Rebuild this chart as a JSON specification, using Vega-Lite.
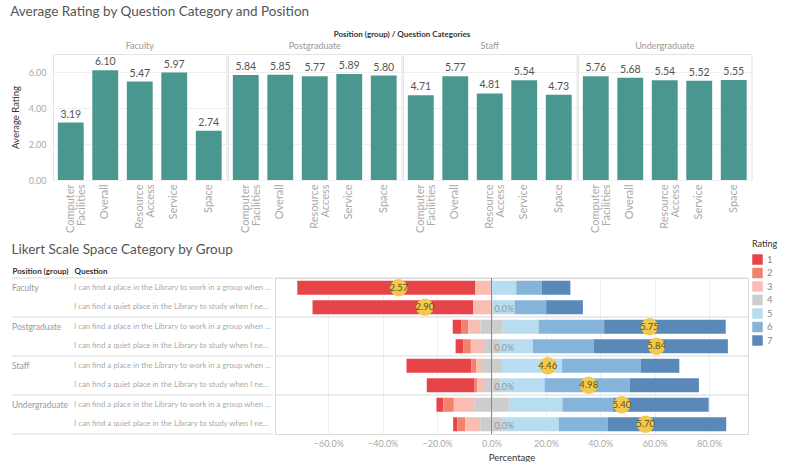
{
  "$schema": "https://vega.github.io/schema/vega-lite/v6.json",
  "background": "white",
  "padding": {"left": 10, "top": 4, "right": 0, "bottom": 0},
  "spacing": 9,
  "columns": 1,
  "align": "none",
  "config": {
    "font": "Lato",
    "view": {"stroke": null},
    "title": {"font": "Lato", "fontSize": 13.5, "fontWeight": "normal", "color": "#555555", "anchor": "start"}
  },
  "datasets": {
    "avg": [
      {"position": "Faculty", "category": "Computer Facilities", "rating": 3.19},
      {"position": "Faculty", "category": "Overall", "rating": 6.10},
      {"position": "Faculty", "category": "Resource Access", "rating": 5.47},
      {"position": "Faculty", "category": "Service", "rating": 5.97},
      {"position": "Faculty", "category": "Space", "rating": 2.74},
      {"position": "Postgraduate", "category": "Computer Facilities", "rating": 5.84},
      {"position": "Postgraduate", "category": "Overall", "rating": 5.85},
      {"position": "Postgraduate", "category": "Resource Access", "rating": 5.77},
      {"position": "Postgraduate", "category": "Service", "rating": 5.89},
      {"position": "Postgraduate", "category": "Space", "rating": 5.80},
      {"position": "Staff", "category": "Computer Facilities", "rating": 4.71},
      {"position": "Staff", "category": "Overall", "rating": 5.77},
      {"position": "Staff", "category": "Resource Access", "rating": 4.81},
      {"position": "Staff", "category": "Service", "rating": 5.54},
      {"position": "Staff", "category": "Space", "rating": 4.73},
      {"position": "Undergraduate", "category": "Computer Facilities", "rating": 5.76},
      {"position": "Undergraduate", "category": "Overall", "rating": 5.68},
      {"position": "Undergraduate", "category": "Resource Access", "rating": 5.54},
      {"position": "Undergraduate", "category": "Service", "rating": 5.52},
      {"position": "Undergraduate", "category": "Space", "rating": 5.55}
    ],
    "rows": [
      {"row": "F1", "group": "Faculty", "question": "I can find a place in the Library to work in a group when ..."},
      {"row": "F2", "group": "Faculty", "question": "I can find a quiet place in the Library to study when I ne..."},
      {"row": "P1", "group": "Postgraduate", "question": "I can find a place in the Library to work in a group when ..."},
      {"row": "P2", "group": "Postgraduate", "question": "I can find a quiet place in the Library to study when I ne..."},
      {"row": "S1", "group": "Staff", "question": "I can find a place in the Library to work in a group when ..."},
      {"row": "S2", "group": "Staff", "question": "I can find a quiet place in the Library to study when I ne..."},
      {"row": "U1", "group": "Undergraduate", "question": "I can find a place in the Library to work in a group when ..."},
      {"row": "U2", "group": "Undergraduate", "question": "I can find a quiet place in the Library to study when I ne..."}
    ],
    "likert": [
      {"row": "F1", "rating": "1", "pct": -0.655},
      {"row": "F1", "rating": "3", "pct": -0.059},
      {"row": "F1", "rating": "5", "pct": 0.091},
      {"row": "F1", "rating": "6", "pct": 0.094},
      {"row": "F1", "rating": "7", "pct": 0.105},
      {"row": "F2", "rating": "1", "pct": -0.590},
      {"row": "F2", "rating": "3", "pct": -0.068},
      {"row": "F2", "rating": "5", "pct": 0.085},
      {"row": "F2", "rating": "6", "pct": 0.116},
      {"row": "F2", "rating": "7", "pct": 0.135},
      {"row": "P1", "rating": "1", "pct": -0.0305},
      {"row": "P1", "rating": "2", "pct": -0.026},
      {"row": "P1", "rating": "3", "pct": -0.045},
      {"row": "P1", "rating": "4", "pct": -0.041},
      {"row": "P1", "rating": "4", "pct": 0.041},
      {"row": "P1", "rating": "5", "pct": 0.132},
      {"row": "P1", "rating": "6", "pct": 0.241},
      {"row": "P1", "rating": "7", "pct": 0.447},
      {"row": "P2", "rating": "1", "pct": -0.028},
      {"row": "P2", "rating": "2", "pct": -0.028},
      {"row": "P2", "rating": "3", "pct": -0.045},
      {"row": "P2", "rating": "4", "pct": -0.031},
      {"row": "P2", "rating": "4", "pct": 0.031},
      {"row": "P2", "rating": "5", "pct": 0.121},
      {"row": "P2", "rating": "6", "pct": 0.224},
      {"row": "P2", "rating": "7", "pct": 0.493},
      {"row": "S1", "rating": "1", "pct": -0.239},
      {"row": "S1", "rating": "2", "pct": -0.018},
      {"row": "S1", "rating": "3", "pct": -0.017},
      {"row": "S1", "rating": "4", "pct": -0.0385},
      {"row": "S1", "rating": "4", "pct": 0.0385},
      {"row": "S1", "rating": "5", "pct": 0.221},
      {"row": "S1", "rating": "6", "pct": 0.290},
      {"row": "S1", "rating": "7", "pct": 0.141},
      {"row": "S2", "rating": "1", "pct": -0.176},
      {"row": "S2", "rating": "2", "pct": -0.010},
      {"row": "S2", "rating": "3", "pct": -0.021},
      {"row": "S2", "rating": "4", "pct": -0.031},
      {"row": "S2", "rating": "4", "pct": 0.031},
      {"row": "S2", "rating": "5", "pct": 0.164},
      {"row": "S2", "rating": "6", "pct": 0.3125},
      {"row": "S2", "rating": "7", "pct": 0.255},
      {"row": "U1", "rating": "1", "pct": -0.025},
      {"row": "U1", "rating": "2", "pct": -0.039},
      {"row": "U1", "rating": "3", "pct": -0.075},
      {"row": "U1", "rating": "4", "pct": -0.0635},
      {"row": "U1", "rating": "4", "pct": 0.0635},
      {"row": "U1", "rating": "5", "pct": 0.197},
      {"row": "U1", "rating": "6", "pct": 0.187},
      {"row": "U1", "rating": "7", "pct": 0.351},
      {"row": "U2", "rating": "1", "pct": -0.016},
      {"row": "U2", "rating": "2", "pct": -0.029},
      {"row": "U2", "rating": "3", "pct": -0.055},
      {"row": "U2", "rating": "4", "pct": -0.041},
      {"row": "U2", "rating": "4", "pct": 0.041},
      {"row": "U2", "rating": "5", "pct": 0.206},
      {"row": "U2", "rating": "6", "pct": 0.181},
      {"row": "U2", "rating": "7", "pct": 0.435}
    ],
    "marker": [
      {"row": "F1", "avg": 2.57},
      {"row": "F2", "avg": 2.90},
      {"row": "P1", "avg": 5.75},
      {"row": "P2", "avg": 5.84},
      {"row": "S1", "avg": 4.46},
      {"row": "S2", "avg": 4.98},
      {"row": "U1", "avg": 5.40},
      {"row": "U2", "avg": 5.70}
    ]
  },
  "concat": [
    {
      "title": {"text": "Average Rating by Question Category and Position", "offset": 13},
      "data": {"name": "avg"},
      "spacing": 0,
      "facet": {
        "column": {
          "field": "position", "type": "nominal",
          "sort": ["Faculty", "Postgraduate", "Staff", "Undergraduate"],
          "header": {
            "title": "Position (group) / Question Categories",
            "titleFontSize": 8, "titleFontWeight": "bold", "titleColor": "#333333", "titlePadding": -7,
            "labelFontSize": 9, "labelColor": "#999999", "labelPadding": 2
          }
        }
      },
      "spec": {
        "width": 173.5,
        "height": 126,
        "view": {"stroke": "#e3e3e3"},
        "encoding": {
          "x": {
            "field": "category", "type": "nominal",
            "sort": ["Computer Facilities", "Overall", "Resource Access", "Service", "Space"],
            "scale": {"paddingInner": 0.25, "paddingOuter": 0.14},
            "axis": {
              "title": null, "labelAngle": -90, "labelFontSize": 11, "labelColor": "#aaaaaa",
              "ticks": false, "domain": false, "labelPadding": 3, "labelLineHeight": 11,
              "labelExpr": "datum.label == 'Computer Facilities' ? ['Computer', 'Facilities'] : datum.label == 'Resource Access' ? ['Resource', 'Access'] : datum.label"
            }
          },
          "y": {
            "field": "rating", "type": "quantitative",
            "scale": {"domain": [0, 7], "nice": false},
            "axis": {
              "values": [0, 2, 4, 6], "format": ".2f", "title": "Average Rating",
              "titleFontSize": 9.5, "titleColor": "#333333", "titleFontWeight": "normal",
              "labelFontSize": 9, "labelColor": "#aaaaaa", "domain": false, "ticks": false,
              "gridColor": "#efefef", "labelPadding": 6, "titlePadding": 8
            }
          }
        },
        "layer": [
          {"mark": {"type": "bar", "color": "#4a978f"}},
          {
            "mark": {"type": "text", "baseline": "bottom", "dy": -3, "fontSize": 10.5, "color": "#555555"},
            "encoding": {"text": {"field": "rating", "type": "quantitative", "format": ".2f"}}
          }
        ]
      }
    },
    {
      "title": {"text": "Likert Scale Space Category by Group", "offset": 11},
      "spacing": 0,
      "hconcat": [
        {
          "width": 220,
          "height": 156,
          "data": {"name": "rows"},
          "layer": [
            {
              "mark": {"type": "rule", "color": "#d9d9d9"},
              "transform": [{"filter": "indexof(datum.question, 'group') >= 0"}],
              "encoding": {
                "x": {
                  "datum": "Position (group)", "type": "nominal",
                  "scale": {"type": "point", "domain": ["Position (group)", "Question"], "range": [-41, 21], "padding": 0},
                  "axis": {"orient": "top", "title": null, "labelAngle": 0, "labelAlign": "left", "labelFontWeight": "bold",
                           "labelColor": "#333333", "labelFontSize": 8, "ticks": false, "domain": false, "labelPadding": 3, "grid": false}
                },
                "x2": {"value": "width"},
                "y": {"field": "row", "type": "nominal", "bandPosition": 0,
                      "scale": {"domain": ["F1", "F2", "P1", "P2", "S1", "S2", "U1", "U2"], "paddingInner": 0, "paddingOuter": 0}, "axis": null}
              }
            },
            {
              "mark": {"type": "rule", "color": "#d9d9d9"},
              "transform": [{"filter": "datum.row == 'U2'"}],
              "encoding": {
                "x": {"datum": "Position (group)", "type": "nominal"},
                "x2": {"value": "width"},
                "y": {"field": "row", "type": "nominal", "bandPosition": 1}
              }
            },
            {
              "mark": {"type": "text", "align": "left", "fontSize": 8.5, "color": "#999999"},
              "transform": [{"filter": "indexof(datum.question, 'group') >= 0"}],
              "encoding": {
                "x": {"datum": "Position (group)", "type": "nominal"},
                "y": {"field": "row", "type": "nominal"},
                "text": {"field": "group"}
              }
            },
            {
              "mark": {"type": "text", "align": "left", "fontSize": 7.8, "color": "#aaaaaa", "limit": 198},
              "encoding": {
                "x": {"datum": "Question", "type": "nominal"},
                "y": {"field": "row", "type": "nominal"},
                "text": {"field": "question"}
              }
            }
          ]
        },
        {
          "width": 473,
          "height": 156,
          "view": {"stroke": "#d9d9d9"},
          "resolve": {"scale": {"x": "independent"}},
          "layer": [
            {
              "layer": [
                {
                  "data": {"name": "rows"},
                  "mark": {"type": "rule", "color": "#d9d9d9"},
                  "transform": [{"filter": "indexof(datum.question, 'group') >= 0"}],
                  "encoding": {
                    "y": {"field": "row", "type": "nominal", "bandPosition": 0,
                          "scale": {"domain": ["F1", "F2", "P1", "P2", "S1", "S2", "U1", "U2"], "paddingInner": 0, "paddingOuter": 0}, "axis": null}
                  }
                },
                {
                  "data": {"name": "likert"},
                  "mark": {"type": "bar", "height": {"band": 0.72}},
                  "transform": [{"filter": "datum.pct < 0"}],
                  "encoding": {
                    "y": {"field": "row", "type": "nominal"},
                    "x": {
                      "field": "pct", "type": "quantitative", "stack": "zero",
                      "scale": {"domain": [-0.796, 0.943], "nice": false, "zero": false},
                      "axis": {
                        "values": [-0.6, -0.4, -0.2, 0, 0.2, 0.4, 0.6, 0.8], "format": ".1%",
                        "title": "Percentage", "titleFontSize": 9.5, "titleColor": "#333333", "titleFontWeight": "normal",
                        "labelColor": "#aaaaaa", "labelFontSize": 9, "domain": false, "ticks": false,
                        "gridColor": "#eeeeee", "labelPadding": 5, "titlePadding": 4
                      }
                    },
                    "color": {
                      "field": "rating", "type": "nominal",
                      "scale": {"domain": ["1", "2", "3", "4", "5", "6", "7"],
                                "range": ["#e64448", "#f1826e", "#f9bdb1", "#cdcdcd", "#b8dcf0", "#85b4db", "#5889b9"]},
                      "legend": {
                        "title": "Rating", "orient": "none", "legendX": 699, "legendY": 186,
                        "symbolType": "square", "symbolSize": 110, "symbolStrokeWidth": 0,
                        "titleFontSize": 9, "titleColor": "#333333", "titleFontWeight": "normal",
                        "labelColor": "#888888", "labelFontSize": 9.5, "rowPadding": 2.5
                      }
                    },
                    "order": {"field": "rating", "sort": "descending"}
                  }
                },
                {
                  "data": {"name": "likert"},
                  "mark": {"type": "bar", "height": {"band": 0.72}},
                  "transform": [{"filter": "datum.pct >= 0"}],
                  "encoding": {
                    "y": {"field": "row", "type": "nominal"},
                    "x": {"field": "pct", "type": "quantitative", "stack": "zero"},
                    "color": {"field": "rating", "type": "nominal"},
                    "order": {"field": "rating", "sort": "ascending"}
                  }
                },
                {
                  "data": {"name": "rows"},
                  "mark": {"type": "rule", "color": "#8a8a8a", "strokeWidth": 1},
                  "encoding": {"x": {"datum": 0, "type": "quantitative"}}
                },
                {
                  "data": {"name": "rows"},
                  "mark": {"type": "text", "align": "left", "dx": 3, "fontSize": 9, "color": "#999999"},
                  "transform": [{"filter": "indexof(datum.question, 'quiet') >= 0"}],
                  "encoding": {
                    "x": {"datum": 0, "type": "quantitative"},
                    "y": {"field": "row", "type": "nominal", "bandPosition": 0.6},
                    "text": {"value": "0.0%"}
                  }
                }
              ]
            },
            {
              "data": {"name": "marker"},
              "encoding": {
                "x": {"field": "avg", "type": "quantitative", "scale": {"domain": [1, 7], "nice": false, "zero": false}, "axis": null},
                "y": {"field": "row", "type": "nominal"}
              },
              "layer": [
                {"mark": {"type": "circle", "size": 300, "color": "#f3c94d", "opacity": 1}},
                {"mark": {"type": "text", "fontSize": 9.5, "color": "#5c5020"}, "encoding": {"text": {"field": "avg", "type": "quantitative", "format": ".2f"}}}
              ]
            }
          ]
        }
      ]
    }
  ]
}
